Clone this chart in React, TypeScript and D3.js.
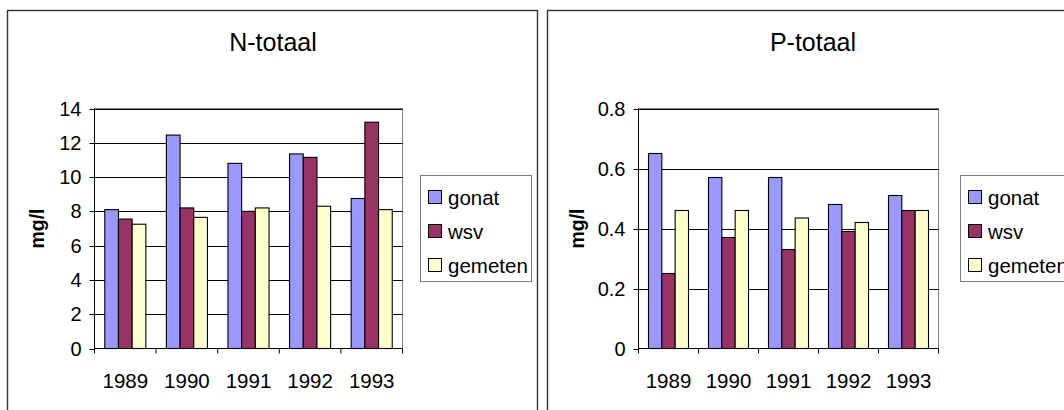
import React from "react";
import * as d3 from "d3";

// Categories and series
const years = ["1989", "1990", "1991", "1992", "1993"];
const seriesNames = ["gonat", "wsv", "gemeten"];
const seriesColors = ["#9999FF", "#993366", "#FFFFCC"];

// N-totaal (mg/l)
const nGonat = [8.1, 12.45, 10.8, 11.35, 8.75];
const nWsv = [7.55, 8.2, 8.0, 11.15, 13.2];
const nGemeten = [7.25, 7.65, 8.2, 8.3, 8.1];
const nTicks = [0, 2, 4, 6, 8, 10, 12, 14];

// P-totaal (mg/l)
const pGonat = [0.65, 0.57, 0.57, 0.48, 0.51];
const pWsv = [0.25, 0.37, 0.33, 0.39, 0.46];
const pGemeten = [0.46, 0.46, 0.435, 0.42, 0.46];
const pTicks = [0, 0.2, 0.4, 0.6, 0.8];

const FONT = "'Liberation Sans', Arial, sans-serif";

type PanelProps = {
  x: number;
  width: number;
  title: string;
  values: number[][];
  ticks: number[];
  tickFormat: (v: number) => string;
  plotLeft: number;
  plotRight: number;
  legendLeft: number;
};

function Panel({ x, width, title, values, ticks, tickFormat, plotLeft, plotRight, legendLeft }: PanelProps) {
  const top = 108.5;
  const bottom = 348.5;
  const yMax = ticks[ticks.length - 1];
  const y = d3.scaleLinear().domain([0, yMax]).range([bottom, top]);
  const x0 = d3
    .scaleBand<string>()
    .domain(years)
    .range([plotLeft, plotRight])
    .paddingInner(1 / 3)
    .paddingOuter(1 / 6);
  const x1 = d3.scaleBand<string>().domain(seriesNames).range([0, x0.bandwidth()]);
  const step = x0.step();
  const boundaries = d3.range(years.length + 1).map((i) => plotLeft + i * step);
  const titleX = x + 266;

  return (
    <g>
      {/* chart frame */}
      <rect x={x + 0.5} y={10.5} width={width} height={420} fill="#fff" stroke="#333" strokeWidth={1.4} />
      <text x={titleX} y={51} textAnchor="middle" fontFamily={FONT} fontSize={25}>
        {title}
      </text>

      {/* plot area border */}
      <rect x={plotLeft} y={top} width={plotRight - plotLeft} height={bottom - top} fill="#fff" stroke="#808080" strokeWidth={1} />

      {/* gridlines */}
      {ticks.slice(1).map((t) => (
        <line key={`g${t}`} x1={plotLeft} x2={plotRight} y1={Math.round(y(t)) + 0.5} y2={Math.round(y(t)) + 0.5} stroke="#000" strokeWidth={1} />
      ))}

      {/* bars */}
      {years.map((yr, i) => (
        <g key={yr} transform={`translate(${x0(yr)},0)`}>
          {seriesNames.map((s, j) => (
            <rect
              key={s}
              x={x1(s)}
              y={y(values[j][i])}
              width={x1.bandwidth()}
              height={y(0) - y(values[j][i])}
              fill={seriesColors[j]}
              stroke="#000"
              strokeWidth={1.1}
            />
          ))}
        </g>
      ))}

      {/* y axis */}
      <line x1={plotLeft} x2={plotLeft} y1={top} y2={bottom} stroke="#000" strokeWidth={1} />
      {ticks.map((t) => (
        <g key={`t${t}`}>
          <line x1={plotLeft - 5} x2={plotLeft} y1={Math.round(y(t)) + 0.5} y2={Math.round(y(t)) + 0.5} stroke="#000" />
          <text x={plotLeft - 13} y={y(t) + 7} textAnchor="end" fontFamily={FONT} fontSize={20}>
            {tickFormat(t)}
          </text>
        </g>
      ))}

      {/* x axis */}
      <line x1={plotLeft} x2={plotRight} y1={bottom} y2={bottom} stroke="#000" strokeWidth={1} />
      {boundaries.map((bx, i) => (
        <line key={`b${i}`} x1={bx} x2={bx} y1={bottom} y2={bottom + 5} stroke="#000" />
      ))}
      {years.map((yr) => (
        <text key={`l${yr}`} x={(x0(yr) ?? 0) + x0.bandwidth() / 2} y={388} textAnchor="middle" fontFamily={FONT} fontSize={20.5}>
          {yr}
        </text>
      ))}

      {/* y axis title */}
      <text
        transform={`translate(${x + 37},${(top + bottom) / 2}) rotate(-90)`}
        textAnchor="middle"
        fontFamily={FONT}
        fontSize={19.5}
        fontWeight="bold"
      >
        mg/l
      </text>

      {/* legend */}
      <rect x={legendLeft + 0.5} y={175.5} width={111} height={106} fill="#fff" stroke="#808080" strokeWidth={1} />
      {seriesNames.map((s, j) => (
        <g key={`lg${s}`} transform={`translate(${legendLeft + 8},${197 + j * 34})`}>
          <rect x={0.5} y={-6.5} width={13} height={13} fill={seriesColors[j]} stroke="#000" strokeWidth={1} />
          <text x={20} y={7.5} fontFamily={FONT} fontSize={20.5}>
            {s}
          </text>
        </g>
      ))}
    </g>
  );
}

export default function App() {
  const nValues = [nGonat, nWsv, nGemeten];
  const pValues = [pGonat, pWsv, pGemeten];
  return (
    <svg width={1064} height={410} style={{ position: "absolute", left: 0, top: 0, background: "#fff" }}>
      <rect width={1064} height={410} fill="#fff" />
      <Panel
        x={7}
        width={530}
        title="N-totaal"
        values={nValues}
        ticks={nTicks}
        tickFormat={(v) => String(v)}
        plotLeft={94.5}
        plotRight={402.5}
        legendLeft={420}
      />
      <Panel
        x={547}
        width={540}
        title="P-totaal"
        values={pValues}
        ticks={pTicks}
        tickFormat={(v) => String(v)}
        plotLeft={638.5}
        plotRight={938.5}
        legendLeft={960}
      />
    </svg>
  );
}
